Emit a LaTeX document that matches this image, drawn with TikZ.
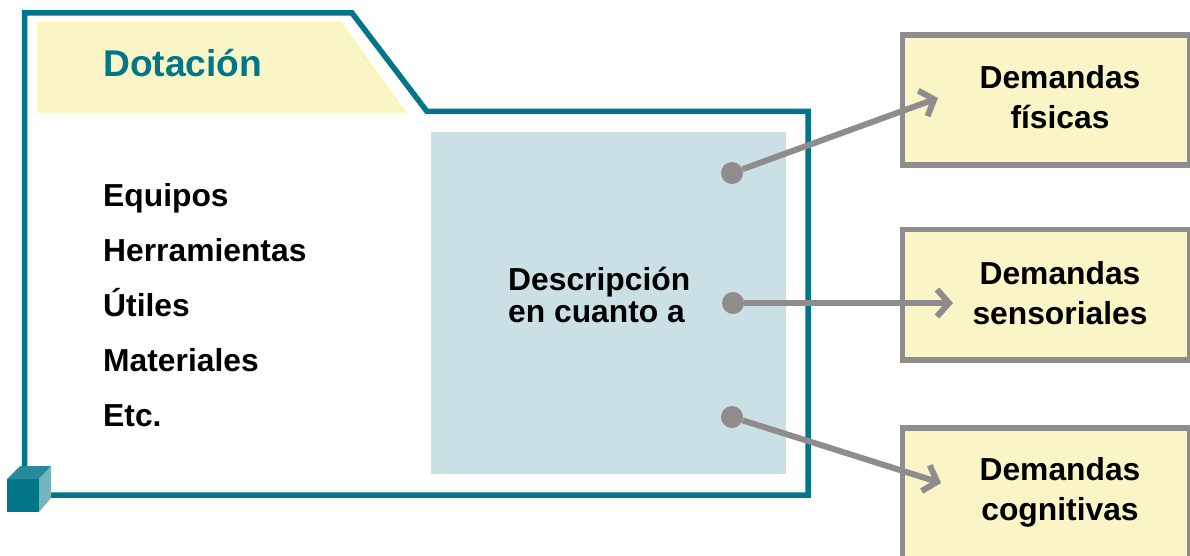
\documentclass[tikz,border=0pt]{standalone}
\usepackage{fontspec}
\setmainfont{Liberation Sans}
\usetikzlibrary{positioning, arrows.meta}
\definecolor{tealline}{HTML}{007688}
\definecolor{greyline}{HTML}{8E8C8C}
\definecolor{softyellow}{HTML}{FAF5C6}
\definecolor{softblue}{HTML}{CBE0E5}
\tikzset{
x=1pt, y=-1pt, % same units as the drawing
->, % makes the edges directed
>={Straight Barb[length=12pt, width=27pt, line width=0pt 1]}, % open arrow heads
item/.style={anchor=base west, font=\bfseries\fontsize{31.8}{40}\selectfont, inner sep=0pt}, % texts on the left
demand/.style={draw=greyline, line width=5.7pt, fill=softyellow, minimum width=287.5pt, minimum height=130.5pt, inner sep=0pt, anchor=north west}, % boxes on the right
demandtext/.style={align=center, font=\bfseries\fontsize{31.8}{40}\selectfont, inner sep=0pt},
spot/.style={circle, fill=greyline, minimum size=22pt, inner sep=0pt},
link/.style={draw=greyline, line width=6pt},
}

\begin{document}
\begin{tikzpicture}
\useasboundingbox (0,0) rectangle (1190,556);

% right side boxes
\node[demand] (fisicas) at (899.5,32) {};
\node[demand] (sensoriales) at (899.5,226.5) {};
\node[demand] (cognitivas) at (899.5,425) {};
\node[demandtext] at (1060,97) {Demandas\\físicas};
\node[demandtext] at (1060,293) {Demandas\\sensoriales};
\node[demandtext] at (1060,492) {Demandas\\cognitivas};

% main frame
\draw[-, draw=tealline, line width=5.5pt] (24.5,13) -- (352,13) -- (427,111.5) -- (808,111.5) -- (808,495) -- (24.5,495) -- cycle;
\fill[softyellow, draw=softyellow!85!yellow, line width=1.5pt] (38,23) -- (341,23) -- (405,112) -- (38,112) -- cycle;
\fill[softblue] (431,132) rectangle (786,474);

% corner cube
\fill[tealline] (7,479) rectangle (39,512);
\fill[tealline!85!white] (7,479) -- (20,466) -- (51,466) -- (39,479) -- cycle;
\fill[tealline!55!white] (39,479) -- (51,466) -- (51,498) -- (39,512) -- cycle;

% texts
\node[item, text=tealline, font=\bfseries\fontsize{37.2}{40}\selectfont] (dotacion) at (103,77) {Dotación};
\node[item] (equipos) at (103,206) {Equipos};
\node[item] (herramientas) at (103,261) {Herramientas};
\node[item] (utiles) at (103,316) {Útiles};
\node[item] (materiales) at (103,371) {Materiales};
\node[item] (etc) at (103,426) {Etc.};
\node[item] (descripcion) at (508,290) {Descripción};
\node[item] (encuanto) at (508,322) {en cuanto a};

% connectors
\node[spot] (s1) at (732,173) {};
\node[spot] (s2) at (733,303) {};
\node[spot] (s3) at (732,417) {};
\coordinate (e1) at (938,98);
\coordinate (e2) at (953,303);
\coordinate (e3) at (941,483);
\draw[link] (s1) -- (e1);
\draw[link] (s2) -- (e2);
\draw[link] (s3) -- (e3);
\end{tikzpicture}
\end{document}
